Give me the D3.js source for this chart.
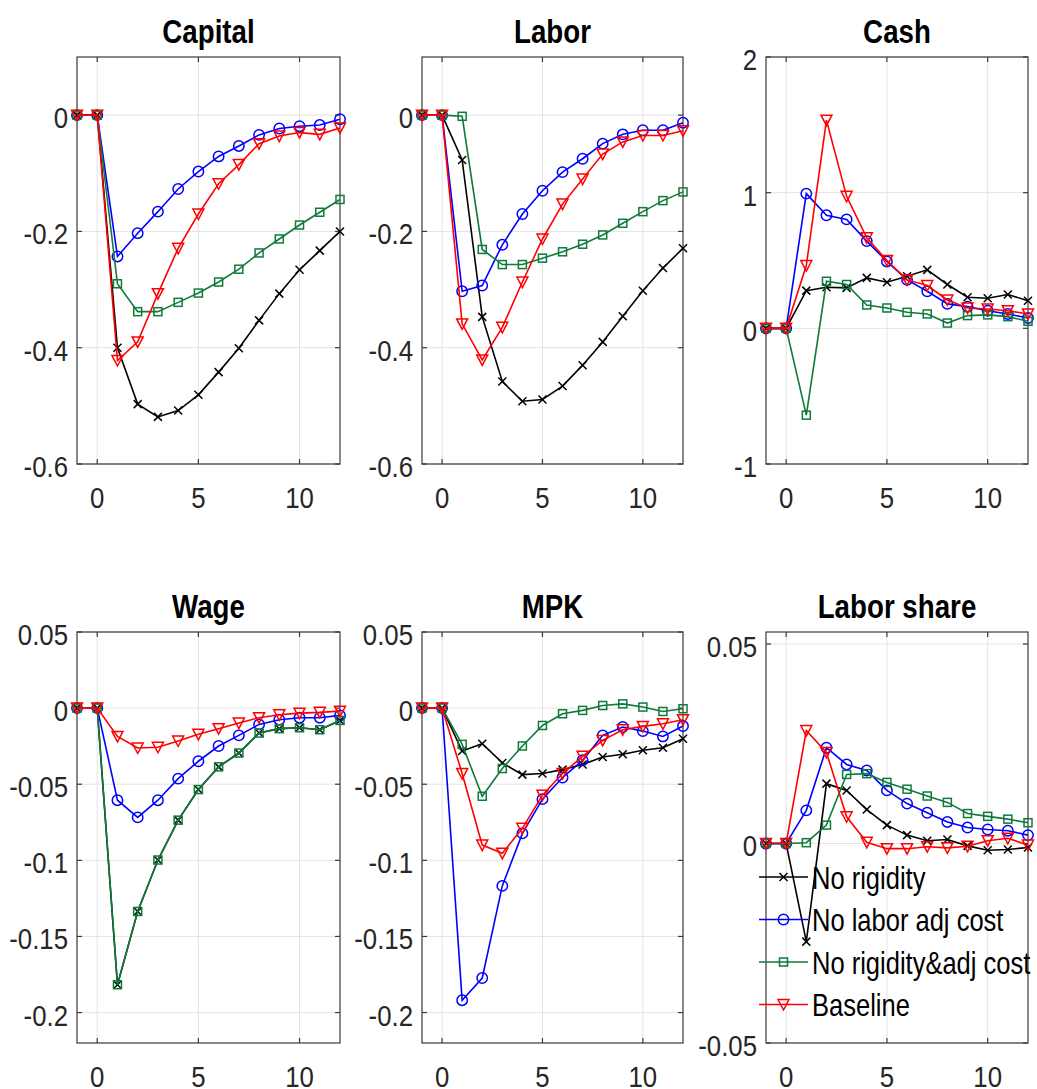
<!DOCTYPE html>
<html>
<head>
<meta charset="utf-8">
<script src="https://cdn.jsdelivr.net/npm/d3@7"></script>
<style>
  body { margin: 0; background: #fff; }
  svg { display: block; }
</style>
</head>
<body>
<div id="chart"></div>
<script>
// horizons, -1 .. 12
var periods = [-1, 0, 1, 2, 3, 4, 5, 6, 7, 8, 9, 10, 11, 12];

var seriesNames = ["No rigidity", "No labor adj cost", "No rigidity&adj cost", "Baseline"];

var panelTitles = ["Capital", "Labor", "Cash", "Wage", "MPK", "Labor share"];

var xTicks = [0, 5, 10];
var xTickLabels = ["0", "5", "10"];

var yTicksQty = [-0.6, -0.4, -0.2, 0];
var yTickLabelsQty = ["-0.6", "-0.4", "-0.2", "0"];
var yTicksCash = [-1, 0, 1, 2];
var yTickLabelsCash = ["-1", "0", "1", "2"];
var yTicksPrice = [-0.2, -0.15, -0.1, -0.05, 0, 0.05];
var yTickLabelsPrice = ["-0.2", "-0.15", "-0.1", "-0.05", "0", "0.05"];
var yTicksShare = [-0.05, 0, 0.05];
var yTickLabelsShare = ["-0.05", "0", "0.05"];

// Capital
var capitalNoRigidity = [0, 0, -0.400, -0.497, -0.519, -0.508, -0.481, -0.442, -0.401, -0.353, -0.307, -0.266, -0.233, -0.200];
var capitalNoAdj = [0, 0, -0.243, -0.203, -0.166, -0.127, -0.097, -0.071, -0.053, -0.034, -0.023, -0.019, -0.017, -0.007];
var capitalNoBoth = [0, 0, -0.290, -0.338, -0.338, -0.322, -0.306, -0.287, -0.265, -0.237, -0.213, -0.189, -0.167, -0.145];
var capitalBaseline = [0, 0, -0.422, -0.390, -0.307, -0.229, -0.170, -0.118, -0.085, -0.049, -0.036, -0.030, -0.033, -0.022];

// Labor
var laborNoRigidity = [0, 0, -0.077, -0.347, -0.458, -0.492, -0.489, -0.466, -0.430, -0.390, -0.346, -0.302, -0.263, -0.229];
var laborNoAdj = [0, 0, -0.303, -0.293, -0.223, -0.170, -0.130, -0.098, -0.075, -0.049, -0.033, -0.026, -0.026, -0.013];
var laborNoBoth = [0, 0, -0.002, -0.231, -0.257, -0.257, -0.246, -0.235, -0.222, -0.206, -0.186, -0.166, -0.147, -0.132];
var laborBaseline = [0, 0, -0.359, -0.421, -0.365, -0.287, -0.213, -0.153, -0.110, -0.067, -0.046, -0.035, -0.035, -0.027];

// Cash
var cashNoRigidity = [0, 0, 0.278, 0.303, 0.298, 0.372, 0.340, 0.384, 0.431, 0.323, 0.229, 0.222, 0.249, 0.204];
var cashNoAdj = [0, 0, 0.993, 0.833, 0.803, 0.643, 0.493, 0.357, 0.273, 0.180, 0.160, 0.130, 0.106, 0.076];
var cashNoBoth = [0, 0, -0.640, 0.347, 0.323, 0.172, 0.150, 0.118, 0.106, 0.039, 0.094, 0.099, 0.086, 0.052];
var cashBaseline = [0, 0, 0.463, 1.534, 0.973, 0.667, 0.500, 0.357, 0.315, 0.209, 0.150, 0.143, 0.130, 0.106];

// Wage
var wageNoRigidity = [0, 0, -0.1817, -0.1336, -0.0998, -0.0736, -0.0535, -0.0386, -0.0295, -0.0164, -0.0135, -0.0129, -0.0142, -0.0081];
var wageNoAdj = [0, 0, -0.0605, -0.0718, -0.0605, -0.0463, -0.0349, -0.0249, -0.0179, -0.0107, -0.0076, -0.0063, -0.0063, -0.0048];
var wageNoBoth = [0, 0, -0.1817, -0.1336, -0.0998, -0.0736, -0.0535, -0.0386, -0.0295, -0.0164, -0.0135, -0.0129, -0.0142, -0.0081];
var wageBaseline = [0, 0, -0.0186, -0.0262, -0.0257, -0.0216, -0.0172, -0.0135, -0.0098, -0.0063, -0.0044, -0.0033, -0.0028, -0.0020];

// MPK
var mpkNoRigidity = [0, 0, -0.0282, -0.0234, -0.0360, -0.0437, -0.0430, -0.0404, -0.0371, -0.0321, -0.0303, -0.0277, -0.0260, -0.0201];
var mpkNoAdj = [0, 0, -0.1919, -0.1773, -0.1168, -0.0823, -0.0598, -0.0456, -0.0343, -0.0179, -0.0124, -0.0151, -0.0186, -0.0118];
var mpkNoBoth = [0, 0, -0.0238, -0.0579, -0.0397, -0.0249, -0.0114, -0.0037, -0.0015, 0.0017, 0.0028, 0.0007, -0.0022, -0.0004];
var mpkBaseline = [0, 0, -0.0430, -0.0900, -0.0954, -0.0790, -0.0572, -0.0430, -0.0317, -0.0212, -0.0142, -0.0120, -0.0103, -0.0076];

// Labor share
var shareNoRigidity = [0, 0, -0.0246, 0.0150, 0.0133, 0.0085, 0.0046, 0.0021, 0.0007, 0.0010, -0.0006, -0.0017, -0.0015, -0.0010];
var shareNoAdj = [0, 0, 0.0083, 0.0240, 0.0198, 0.0183, 0.0133, 0.0100, 0.0077, 0.0054, 0.0040, 0.0035, 0.0032, 0.0021];
var shareNoBoth = [0, 0, 0.0002, 0.0046, 0.0173, 0.0175, 0.0153, 0.0136, 0.0119, 0.0103, 0.0075, 0.0068, 0.0061, 0.0052];
var shareBaseline = [0, 0, 0.0283, 0.0228, 0.0067, 0.0003, -0.0013, -0.0013, -0.0008, -0.0011, -0.0007, 0.0007, 0.0013, -0.0004];

var colors = ["#000000", "#0000ff", "#0f7a3c", "#ff0000"];
var markers = ["cross", "circle", "square", "triangle"];

var W = 1037, H = 1089;

var svg = d3.select("#chart").append("svg")
  .attr("width", W)
  .attr("height", H)
  .style("font-family", "'Liberation Sans', Arial, sans-serif");

// panel boxes (pixels) and their y settings
var panels = [
  { title: panelTitles[0], x0: 77, x1: 340, y0: 57, y1: 464, yDomain: [-0.6, 0.1], yTicks: yTicksQty, yLabels: yTickLabelsQty,
    data: [capitalNoRigidity, capitalNoAdj, capitalNoBoth, capitalBaseline] },
  { title: panelTitles[1], x0: 422, x1: 683, y0: 57, y1: 464, yDomain: [-0.6, 0.1], yTicks: yTicksQty, yLabels: yTickLabelsQty,
    data: [laborNoRigidity, laborNoAdj, laborNoBoth, laborBaseline] },
  { title: panelTitles[2], x0: 766, x1: 1028, y0: 57, y1: 464, yDomain: [-1, 2], yTicks: yTicksCash, yLabels: yTickLabelsCash,
    data: [cashNoRigidity, cashNoAdj, cashNoBoth, cashBaseline] },
  { title: panelTitles[3], x0: 77, x1: 340, y0: 632, y1: 1043, yDomain: [-0.22, 0.05], yTicks: yTicksPrice, yLabels: yTickLabelsPrice,
    data: [wageNoRigidity, wageNoAdj, wageNoBoth, wageBaseline] },
  { title: panelTitles[4], x0: 422, x1: 683, y0: 632, y1: 1043, yDomain: [-0.22, 0.05], yTicks: yTicksPrice, yLabels: yTickLabelsPrice,
    data: [mpkNoRigidity, mpkNoAdj, mpkNoBoth, mpkBaseline] },
  { title: panelTitles[5], x0: 766, x1: 1028, y0: 632, y1: 1043, yDomain: [-0.05, 0.053], yTicks: yTicksShare, yLabels: yTickLabelsShare,
    data: [shareNoRigidity, shareNoAdj, shareNoBoth, shareBaseline], legend: true }
];

// squeezed text, the source figure uses a narrow font
function addText(g, x, y, str, size, sx, anchor, weight, fill) {
  return g.append("text")
    .attr("transform", "translate(" + x + "," + y + ") scale(" + sx + ",1)")
    .attr("text-anchor", anchor)
    .attr("font-size", size)
    .attr("font-weight", weight || "normal")
    .attr("fill", fill || "#262626")
    .text(str);
}

function drawMarker(g, type, x, y, color) {
  if (type == "cross") {
    g.append("path")
      .attr("d", "M" + (x - 4) + "," + (y - 4) + "L" + (x + 4) + "," + (y + 4) +
        "M" + (x - 4) + "," + (y + 4) + "L" + (x + 4) + "," + (y - 4))
      .attr("stroke", color).attr("stroke-width", 1.5).attr("fill", "none");
  } else if (type == "circle") {
    g.append("circle").attr("cx", x).attr("cy", y).attr("r", 5.2)
      .attr("stroke", color).attr("stroke-width", 1.5).attr("fill", "none");
  } else if (type == "square") {
    g.append("rect").attr("x", x - 4).attr("y", y - 4).attr("width", 8).attr("height", 8)
      .attr("stroke", color).attr("stroke-width", 1.5).attr("fill", "none");
  } else {
    g.append("path")
      .attr("d", "M" + (x - 5.5) + "," + (y - 5) + "L" + (x + 5.5) + "," + (y - 5) + "L" + x + "," + (y + 5.5) + "Z")
      .attr("stroke", color).attr("stroke-width", 1.5).attr("fill", "none");
  }
}

panels.forEach(function (p) {
  var g = svg.append("g");

  var x = d3.scaleLinear().domain([-1, 12]).range([p.x0, p.x1]);
  var y = d3.scaleLinear().domain(p.yDomain).range([p.y1, p.y0]);

  // grid
  g.selectAll(".gx").data(xTicks).enter().append("line")
    .attr("x1", function (d) { return x(d); }).attr("x2", function (d) { return x(d); })
    .attr("y1", p.y0).attr("y2", p.y1)
    .attr("stroke", "#e3e3e3").attr("stroke-width", 1);
  g.selectAll(".gy").data(p.yTicks).enter().append("line")
    .attr("x1", p.x0).attr("x2", p.x1)
    .attr("y1", function (d) { return y(d); }).attr("y2", function (d) { return y(d); })
    .attr("stroke", "#e3e3e3").attr("stroke-width", 1);

  // box
  g.append("rect")
    .attr("x", p.x0).attr("y", p.y0)
    .attr("width", p.x1 - p.x0).attr("height", p.y1 - p.y0)
    .attr("fill", "none").attr("stroke", "#3a3a3a").attr("stroke-width", 1.2);

  // inward ticks on all four sides
  xTicks.forEach(function (t) {
    g.append("line").attr("x1", x(t)).attr("x2", x(t)).attr("y1", p.y1).attr("y2", p.y1 - 5)
      .attr("stroke", "#3a3a3a").attr("stroke-width", 1.2);
    g.append("line").attr("x1", x(t)).attr("x2", x(t)).attr("y1", p.y0).attr("y2", p.y0 + 5)
      .attr("stroke", "#3a3a3a").attr("stroke-width", 1.2);
  });
  p.yTicks.forEach(function (t) {
    g.append("line").attr("x1", p.x0).attr("x2", p.x0 + 5).attr("y1", y(t)).attr("y2", y(t))
      .attr("stroke", "#3a3a3a").attr("stroke-width", 1.2);
    g.append("line").attr("x1", p.x1).attr("x2", p.x1 - 5).attr("y1", y(t)).attr("y2", y(t))
      .attr("stroke", "#3a3a3a").attr("stroke-width", 1.2);
  });

  // tick labels
  xTicks.forEach(function (t, i) {
    addText(g, x(t), p.y1 + 44, xTickLabels[i], 30, 0.86, "middle");
  });
  p.yTicks.forEach(function (t, i) {
    addText(g, p.x0 - 9, y(t) + 13, p.yLabels[i], 30, 0.86, "end");
  });

  // title
  addText(g, (p.x0 + p.x1) / 2, p.y0 - 14, p.title, 33, 0.84, "middle", "bold", "#000");

  // series
  var line = d3.line()
    .x(function (d, i) { return x(periods[i]); })
    .y(function (d) { return y(d); });

  p.data.forEach(function (s, k) {
    g.append("path")
      .attr("d", line(s))
      .attr("fill", "none")
      .attr("stroke", colors[k])
      .attr("stroke-width", 1.6);
    s.forEach(function (v, i) {
      drawMarker(g, markers[k], x(periods[i]), y(v), colors[k]);
    });
  });

  // legend inside the last panel, no box
  if (p.legend) {
    var lg = svg.append("g");
    seriesNames.forEach(function (name, k) {
      var ly = 877 + k * 42.5;
      lg.append("line").attr("x1", 759).attr("x2", 808).attr("y1", ly).attr("y2", ly)
        .attr("stroke", colors[k]).attr("stroke-width", 1.6);
      drawMarker(lg, markers[k], 783.5, ly, colors[k]);
      addText(lg, 812, ly + 11.5, name, 31.5, 0.81, "start", "normal", "#000");
    });
  }
});
</script>
</body>
</html>
